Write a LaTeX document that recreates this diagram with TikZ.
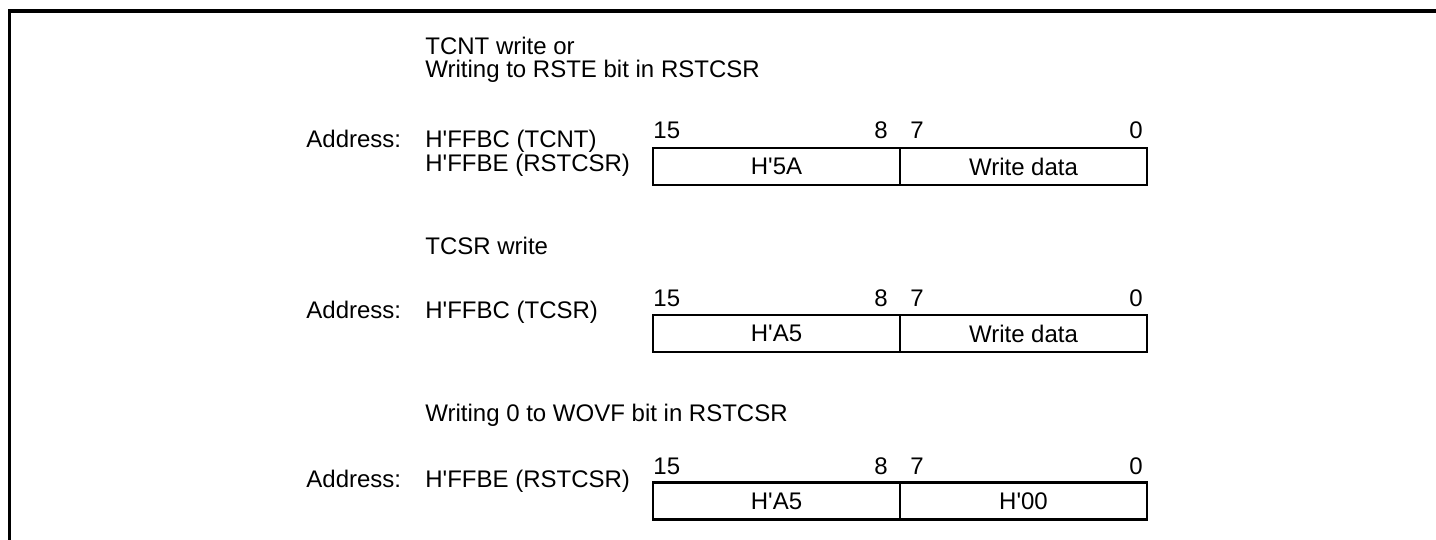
\documentclass[tikz,border=0pt]{standalone}
\usepackage{fontspec}
\setmainfont{Liberation Sans}
\usepackage{tikz}
\usetikzlibrary{positioning}
\newcommand{\hq}{H\textquotesingle}

\begin{document}
\begin{tikzpicture}[x=0.5pt,y=-0.5pt,
  txt/.style={anchor=base west,inner sep=0pt,font=\fontsize{12}{14}\selectfont},
  bitno/.style={inner sep=0pt,font=\fontsize{12}{14}\selectfont},
  regcell/.style={draw,line width=1.3pt,outer sep=0pt,inner sep=0pt,
    minimum width=123.5pt,minimum height=18.5pt,font=\fontsize{12}{14}\selectfont}]
\path[use as bounding box] (0,0) rectangle (1436,540);
% frame
\draw[line width=1.6pt] (9.5,540) -- (9.5,11) -- (1436,11);
% TCNT / RSTE write
\node[txt] (headA1) at (425,55) {TCNT write or};
\node[txt] (headA2) at (425,77.7) {Writing to RSTE bit in RSTCSR};
\node[txt] (addrA) at (306,148) {Address:};
\node[txt] (addrA1) at (425,148) {\hq FFBC (TCNT)};
\node[txt] (addrA2) at (425,171.7) {\hq FFBE (RSTCSR)};
\node[regcell] (hiA) at (776.5,166.5) {\hq 5A};
\node[regcell,right=0pt of hiA] (loA) {Write data};
\node[bitno,anchor=base west] (bA15) at (653,139) {15};
\node[bitno,anchor=base east] (bA8) at (888,139) {8};
\node[bitno,anchor=base west] (bA7) at (910,139) {7};
\node[bitno,anchor=base east] (bA0) at (1143,139) {0};
% TCSR write
\node[txt] (headB) at (425,255) {TCSR write};
\node[txt] (addrB) at (306,318.3) {Address:};
\node[txt] (addrB1) at (425,318.3) {\hq FFBC (TCSR)};
\node[regcell] (hiB) at (776.5,333.5) {\hq A5};
\node[regcell,right=0pt of hiB] (loB) {Write data};
\node[bitno,anchor=base west] (bB15) at (653,306) {15};
\node[bitno,anchor=base east] (bB8) at (888,306) {8};
\node[bitno,anchor=base west] (bB7) at (910,306) {7};
\node[bitno,anchor=base east] (bB0) at (1143,306) {0};
% WOVF clear
\node[txt] (headC) at (425,421.7) {Writing 0 to WOVF bit in RSTCSR};
\node[txt] (addrC) at (306,487) {Address:};
\node[txt] (addrC1) at (425,487) {\hq FFBE (RSTCSR)};
\node[regcell] (hiC) at (776.5,501) {\hq A5};
\node[regcell,right=0pt of hiC] (loC) {\hq 00};
\node[bitno,anchor=base west] (bC15) at (653,474) {15};
\node[bitno,anchor=base east] (bC8) at (888,474) {8};
\node[bitno,anchor=base west] (bC7) at (910,474) {7};
\node[bitno,anchor=base east] (bC0) at (1143,474) {0};
\end{tikzpicture}
\end{document}
